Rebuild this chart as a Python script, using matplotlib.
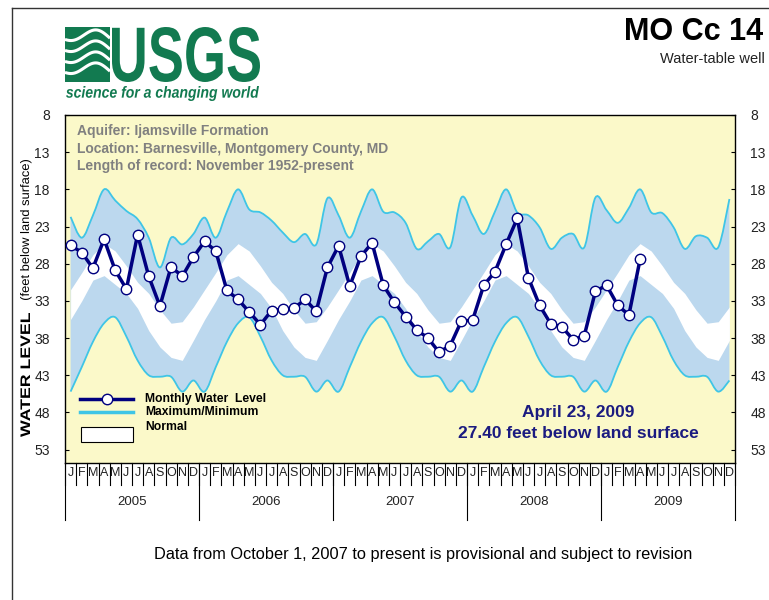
import numpy as np
import matplotlib
matplotlib.use("Agg")
import matplotlib.pyplot as plt
from matplotlib.path import Path
from matplotlib.patches import PathPatch, Rectangle
from matplotlib.textpath import TextPath
from matplotlib.font_manager import FontProperties
from matplotlib.transforms import Affine2D
from matplotlib.lines import Line2D

plt.rcParams['font.family'] = ['Liberation Sans', 'DejaVu Sans']

W, H = 769, 600

years = [2005, 2006, 2007, 2008, 2009]
month_letters = ["J", "F", "M", "A", "M", "J", "J", "A", "S", "O", "N", "D"]
y_ticks = [8, 13, 18, 23, 28, 33, 38, 43, 48, 53]

# monthly water level, Jan 2005 - Apr 2009 (feet below land surface)
water_level = [25.5, 26.5, 28.6, 24.7, 28.9, 31.4, 24.1, 29.7, 33.7, 28.4, 29.7, 27.1,
               25.0, 26.3, 31.6, 32.8, 34.5, 36.2, 34.3, 34.1, 34.0, 32.8, 34.4, 28.5,
               25.6, 31.0, 27.0, 25.2, 30.9, 33.2, 35.1, 36.9, 38.0, 39.9, 39.0, 35.7,
               35.6, 30.9, 29.1, 25.4, 21.9, 29.9, 33.6, 36.1, 36.5, 38.2, 37.7, 31.7,
               30.9, 33.6, 34.9, 27.4]

# maximum (shallowest) level, month by month as drawn, 2005-2009
max_level = [21.7, 24.5, 21.5, 18.0, 19.5, 20.9, 22.0, 24.5, 28.5, 24.5, 25.4, 24.0,
             21.8, 24.5, 21.0, 18.0, 20.7, 21.1, 22.2, 23.8, 25.1, 24.0, 25.4, 19.2,
             21.5, 24.5, 21.0, 18.0, 21.0, 21.1, 22.5, 26.0, 25.0, 24.0, 25.8, 19.1,
             21.5, 24.0, 21.0, 18.0, 21.1, 21.5, 23.1, 26.0, 24.5, 24.0, 25.8, 19.1,
             20.8, 22.5, 20.5, 18.0, 21.1, 21.2, 23.1, 26.0, 24.3, 24.5, 25.8, 19.3]

# minimum (deepest) level and normal range, Jan..Dec
min_level = [45.2, 41.9, 38.5, 36.0, 35.2, 37.8, 41.0, 43.0, 43.2, 43.2, 45.2, 43.7]
normal_top = [31.5, 29.2, 26.8, 25.3, 26.3, 28.3, 30.5, 32.0, 34.2, 36.0, 35.8, 33.8]
normal_bottom = [35.5, 33.0, 30.2, 29.6, 30.8, 32.0, 34.0, 37.0, 39.2, 40.6, 41.0, 38.3]

GREEN = "#127A50"
NAVY = "#00007F"
CYAN = "#3FC5E6"
BLUE = "#BCD8EE"
YELLOW = "#FBF9C9"


def bezier_pts(x, y):
    # smoothed line like the spreadsheet one: cubic segments through the points
    n = len(x)
    verts = []
    for i in range(n - 1):
        a = max(i - 1, 0)
        d = min(i + 2, n - 1)
        c1 = (x[i] + (x[i + 1] - x[a]) / 6, y[i] + (y[i + 1] - y[a]) / 6)
        c2 = (x[i + 1] - (x[d] - x[i]) / 6, y[i + 1] - (y[d] - y[i]) / 6)
        verts += [c1, c2, (x[i + 1], y[i + 1])]
    return verts


def smooth_line(x, y):
    verts = [(x[0], y[0])] + bezier_pts(x, y)
    codes = [Path.MOVETO] + [Path.CURVE4] * (len(verts) - 1)
    return Path(verts, codes)


def smooth_band(x, y1, y2):
    xr, y2r = x[::-1], y2[::-1]
    v1 = bezier_pts(x, y1)
    v2 = bezier_pts(xr, y2r)
    verts = [(x[0], y1[0])] + v1 + [(xr[0], y2r[0])] + v2 + [(x[0], y1[0])]
    codes = ([Path.MOVETO] + [Path.CURVE4] * len(v1) + [Path.LINETO]
             + [Path.CURVE4] * len(v2) + [Path.CLOSEPOLY])
    return Path(verts, codes)


fig = plt.figure(figsize=(W / 100, H / 100), dpi=100)
fig.patch.set_facecolor("white")
PX = Affine2D().scale(1 / W, -1 / H).translate(0, 1) + fig.transFigure


def fit_text(s, x0, y0, w, h, prop, color):
    tp = TextPath((0, 0), s, size=100, prop=prop)
    bb = tp.get_extents()
    tr = (Affine2D().translate(-bb.x0, -bb.y0)
          .scale(w / bb.width, -h / bb.height).translate(x0, y0 + h))
    fig.add_artist(PathPatch(tr.transform_path(tp), transform=PX,
                             facecolor=color, edgecolor="none"))


def fit_text_up(s, x_left, x_right, y_top, y_bottom, prop, color):
    # text reading bottom to top, squeezed into a pixel box
    tp = TextPath((0, 0), s, size=100, prop=prop)
    bb = tp.get_extents()
    tr = (Affine2D().translate(-bb.x0, -bb.y0).scale(1 / bb.width, 1 / bb.height)
          + Affine2D.from_values(0, -(y_bottom - y_top), -(x_right - x_left), 0,
                                 x_right, y_bottom))
    fig.add_artist(PathPatch(tr.transform_path(tp), transform=PX,
                             facecolor=color, edgecolor="none"))


# outer frame
fig.add_artist(Line2D([12, W], [8, 8], transform=PX, color="#333333", lw=1))
fig.add_artist(Line2D([12, 12], [8, H], transform=PX, color="#333333", lw=1))

# USGS logo
fig.add_artist(Rectangle((65, 27), 45, 55, transform=PX, facecolor=GREEN, edgecolor="none"))
t = np.linspace(0, 1, 60)
for k, off in enumerate([36, 47, 58, 69]):
    xs = 65 + 45 * t
    ys = off + 7 * np.sin(2 * np.pi * (t * 0.9 + 0.15)) * (0.6 + 0.4 * t)
    fig.add_artist(Line2D(xs, ys, transform=PX, color="white", lw=2.2,
                          solid_capstyle="butt"))
fit_text("USGS", 112, 27, 148, 55, FontProperties(family="Liberation Sans", weight="bold"), GREEN)
fit_text("science for a changing world", 66, 86, 193, 15,
         FontProperties(family="Liberation Sans", weight="bold", style="italic"), GREEN)

# title block
fig.text(763 / W, 1 - 32 / H, "MO Cc 14", ha="right", va="center",
         fontsize=22, fontweight="bold", color="black")
fig.text(765 / W, 1 - 59 / H, "Water-table well", ha="right", va="center",
         fontsize=10.5, color="#222222")

# main plot area
L, R, T, B = 65, 735, 115, 463
ax = fig.add_axes([L / W, 1 - B / H, (R - L) / W, (B - T) / H])
ax.set_facecolor(YELLOW)
ax.set_xlim(0, 60)
ax.set_ylim(54.8, 8)

n_years = len(years)
xm = np.arange(12 * n_years) + 0.5
upper = np.array(max_level)
lower = np.tile(min_level, n_years)
ntop = np.tile(normal_top, n_years)
nbot = np.tile(normal_bottom, n_years)

ax.add_patch(PathPatch(smooth_band(xm, upper, lower), facecolor=BLUE,
                       edgecolor="none", zorder=1))
ax.fill_between(xm, ntop, nbot, color="white", lw=0, zorder=2)
ax.add_patch(PathPatch(smooth_line(xm, upper), facecolor="none", edgecolor=CYAN,
                       lw=1.3, zorder=3))
ax.add_patch(PathPatch(smooth_line(xm, lower), facecolor="none", edgecolor=CYAN,
                       lw=1.3, zorder=3))

xw = np.arange(len(water_level)) + 0.5
ax.plot(xw, water_level, color=NAVY, lw=2.5, marker="o", ms=7.5,
        mfc="white", mec=NAVY, mew=1, zorder=5)

for s in ax.spines.values():
    s.set_color("black")
    s.set_linewidth(1)

ax.set_yticks(y_ticks)
ax.tick_params(axis="y", which="both", direction="in", length=3, labelsize=10,
               left=True, right=True, labelleft=True, labelright=True,
               colors="black", labelcolor="#222222", pad=11)
ax.set_xticks([])

# month / year axis below the plot
xt = ax.get_xaxis_transform()
for i in range(12 * n_years + 1):
    ax.plot([i, i], [0, -22 / (B - T)], transform=xt, color="black", lw=0.8,
            clip_on=False)
    if i < 12 * n_years:
        ax.text(i + 0.5, -10 / (B - T), month_letters[i % 12], transform=xt,
                ha="center", va="center", fontsize=9, color="#222222")
for k, yr in enumerate(years):
    ax.plot([12 * k, 12 * k], [0, -57 / (B - T)], transform=xt, color="black",
            lw=0.8, clip_on=False)
    ax.text(12 * k + 6, -39 / (B - T), str(yr), transform=xt, ha="center",
            va="center", fontsize=9.5, color="#222222")
ax.plot([60, 60], [0, -57 / (B - T)], transform=xt, color="black", lw=0.8,
        clip_on=False)

# info text
info = ["Aquifer: Ijamsville Formation",
        "Location: Barnesville, Montgomery County, MD",
        "Length of record: November 1952-present"]
for k, line in enumerate(info):
    fig.text(77 / W, 1 - (131 + 17.5 * k) / H, line, ha="left", va="center",
             fontsize=10, fontweight="bold", color="#808080")

# legend
ax.add_artist(Line2D([80, 133], [399, 399], transform=PX, color=NAVY, lw=2.5,
                     zorder=6))
ax.add_artist(Line2D([107], [399], transform=PX, marker="o", ms=7.5, mfc="white",
                     mec=NAVY, mew=1, zorder=7))
ax.add_artist(Line2D([80, 133], [412, 412], transform=PX, color=CYAN, lw=2.5,
                     zorder=6))
ax.add_artist(Rectangle((81, 427), 52, 15, transform=PX, facecolor="white",
                        edgecolor="black", lw=0.8, zorder=6))
for label, yy in [("Monthly Water  Level", 399), ("Maximum/Minimum", 412),
                  ("Normal", 427)]:
    fig.text(145 / W, 1 - yy / H, label, ha="left", va="center", fontsize=8.7,
             fontweight="bold", color="black")

# latest reading
fig.text(578 / W, 1 - 413 / H, "April 23, 2009", ha="center", va="center",
         fontsize=12.5, fontweight="bold", color="#1B1B80")
fig.text(578 / W, 1 - 434 / H, "27.40 feet below land surface", ha="center",
         va="center", fontsize=12.5, fontweight="bold", color="#1B1B80")

# axis label
fit_text_up("WATER LEVEL", 20.5, 30, 313, 437,
            FontProperties(family="Liberation Sans", weight="bold"), "black")
fit_text_up("(feet below land surface)", 20, 31.5, 160, 300,
            FontProperties(family="Liberation Sans"), "black")

# footer
fig.text(423 / W, 1 - 555 / H,
         "Data from October 1, 2007 to present is provisional and subject to revision",
         ha="center", va="center", fontsize=11.8)

fig.savefig("out.png", dpi=100)
